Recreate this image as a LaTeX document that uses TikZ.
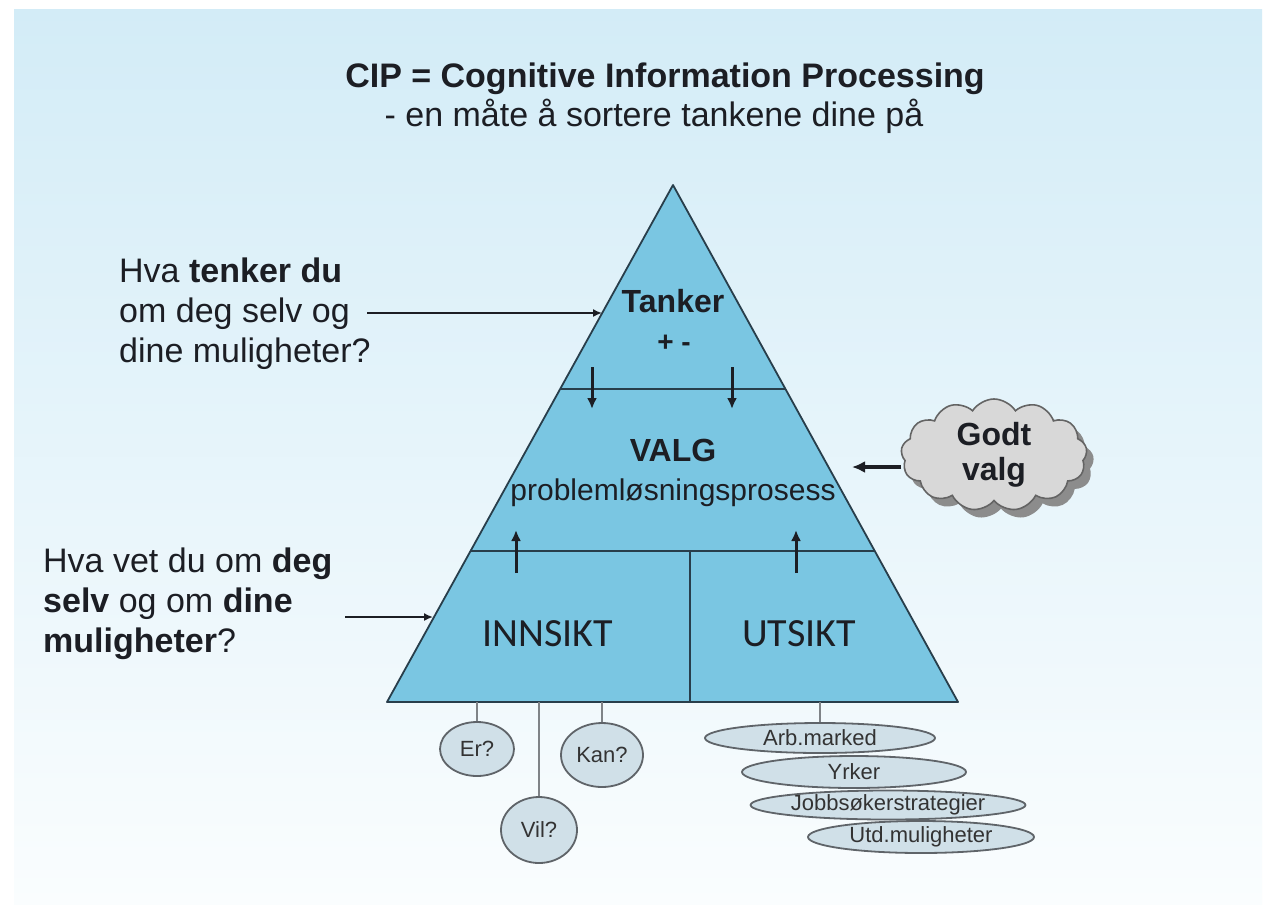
\documentclass[tikz,border=0pt]{standalone}
\usepackage{fontspec}
\setmainfont{Liberation Sans}
\newfontfamily\calib{Carlito}
\usetikzlibrary{shapes.symbols,shapes.geometric,arrows.meta,shadows,calc}
\definecolor{bgtop}{RGB}{211,236,247}
\definecolor{bgbot}{RGB}{250,253,254}
\definecolor{pyr}{RGB}{122,198,226}
\definecolor{pyrline}{RGB}{40,62,75}
\definecolor{txt}{RGB}{28,30,36}
\definecolor{bubble}{RGB}{208,224,232}
\definecolor{bubline}{RGB}{95,100,105}
\definecolor{cloudfill}{RGB}{216,216,216}
\definecolor{cloudline}{RGB}{100,100,100}
\begin{document}
\begin{tikzpicture}[x=1pt,y=-1pt,
  bigtext/.style={text=txt,inner sep=0pt,font=\fontsize{34}{40}\selectfont},
  pyrtext/.style={text=txt,inner sep=0pt},
  divline/.style={draw=pyrline,line width=1.8pt},
  pyrarrow/.style={draw=txt,line width=3pt,-{Latex[length=11pt,width=10pt]}},
  pointer/.style={draw=txt,line width=1.6pt,-{Latex[length=9pt,width=8pt]}},
  bubblenode/.style={ellipse,draw=bubline,line width=1.8pt,fill=bubble,inner sep=0pt,text=black!80,font=\fontsize{22}{24}\selectfont},
  stem/.style={draw=bubline!80,line width=1.6pt}]
\useasboundingbox (0,0) rectangle (1273,913);
\fill[white] (0,0) rectangle (1273,913);
\shade[top color=bgtop,bottom color=bgbot] (14,9) rectangle (1262,904);

% title
\node[bigtext,anchor=base,font=\fontsize{34}{40}\selectfont\bfseries] (title) at (665,87) {CIP = Cognitive Information Processing};
\node[bigtext,anchor=base] (subtitle) at (654,126) {- en måte å sortere tankene dine på};

% pyramid
\coordinate (apex) at (673,185);
\coordinate (bl) at (387,702);
\coordinate (br) at (958,702);
\filldraw[fill=pyr,draw=pyrline,line width=1.8pt,line join=round] (apex) -- (br) -- (bl) -- cycle;
\coordinate (d1l) at ($(apex)!0.3946!(bl)$);
\coordinate (d1r) at ($(apex)!0.3946!(br)$);
\coordinate (d2l) at ($(apex)!0.7079!(bl)$);
\coordinate (d2r) at ($(apex)!0.7079!(br)$);
\coordinate (vtop) at (690,551);
\coordinate (vbot) at (690,702);
\draw[divline] (d1l) -- (d1r);
\draw[divline] (d2l) -- (d2r);
\draw[divline] (vtop) -- (vbot);

\node[pyrtext,anchor=base,font=\fontsize{32}{36}\selectfont\bfseries] (tanker) at (673,312) {Tanker};
\node[pyrtext,anchor=base,font=\fontsize{28}{30}\selectfont\bfseries] (pm) at (674,351) {+ -};
\node[pyrtext,anchor=base,font=\fontsize{32}{36}\selectfont\bfseries] (valg) at (673,461) {VALG};
\node[pyrtext,anchor=base,font=\fontsize{30}{34}\selectfont] (prob) at (673,500) {problemløsningsprosess};
\node[pyrtext,anchor=base,font=\calib\fontsize{40}{44}\selectfont] (innsikt) at (548,646) {INNSIKT};
\node[pyrtext,anchor=base,font=\calib\fontsize{40}{44}\selectfont] (utsikt) at (799,646) {UTSIKT};

% arrows inside pyramid
\coordinate (a1s) at (592,367); \coordinate (a1e) at (592,409);
\coordinate (a2s) at (732,367); \coordinate (a2e) at (732,409);
\coordinate (a3s) at (516,573); \coordinate (a3e) at (516,530);
\coordinate (a4s) at (796,573); \coordinate (a4e) at (796,530);
\draw[pyrarrow] (a1s) -- (a1e);
\draw[pyrarrow] (a2s) -- (a2e);
\draw[pyrarrow] (a3s) -- (a3e);
\draw[pyrarrow] (a4s) -- (a4e);

% left questions
\node[bigtext,anchor=base west] (q1a) at (119,282) {Hva \textbf{tenker du}};
\node[bigtext,anchor=base west] (q1b) at (119,322) {om deg selv og};
\node[bigtext,anchor=base west] (q1c) at (119,362) {dine muligheter?};
\coordinate (p1s) at (367,313); \coordinate (p1e) at (602,313);
\draw[pointer] (p1s) -- (p1e);

\node[bigtext,anchor=base west] (q2a) at (43,572) {Hva vet du om \textbf{deg}};
\node[bigtext,anchor=base west] (q2b) at (43,612) {\textbf{selv} og om \textbf{dine}};
\node[bigtext,anchor=base west] (q2c) at (43,652) {\textbf{muligheter}?};
\coordinate (p2s) at (345,617); \coordinate (p2e) at (433,617);
\draw[pointer] (p2s) -- (p2e);

% cloud
\node[cloud,cloud puffs=13,cloud puff arc=115,aspect=1.75,draw=cloudline,line width=1.6pt,fill=cloudfill,
  minimum width=186pt,minimum height=112pt,inner sep=0pt,
  drop shadow={shadow xshift=7pt,shadow yshift=-8pt,fill=black!45,opacity=1},
  align=center,text=txt,font=\fontsize{32}{35}\selectfont\bfseries] (cloud) at (994,455) {Godt\\valg};
\coordinate (ctip) at (852,467);
\draw[draw=txt,line width=3.6pt,-{Latex[length=13pt,width=12pt]}] (cloud.west |- ctip) -- (ctip);

% innsikt bubbles
\node[bubblenode,minimum width=74pt,minimum height=54pt] (er) at (477,749) {Er?};
\node[bubblenode,minimum width=82pt,minimum height=64pt] (kan) at (602,755) {Kan?};
\node[bubblenode,minimum width=76pt,minimum height=66pt] (vil) at (539,830) {Vil?};
\draw[stem] (er.north) -- (er.north |- bl);
\draw[stem] (kan.north) -- (kan.north |- bl);
\draw[stem] (vil.north) -- (vil.north |- bl);

% utsikt ellipses
\node[bubblenode,minimum width=230pt,minimum height=30pt] (arb) at (820,738) {Arb.marked};
\node[bubblenode,minimum width=224pt,minimum height=32pt] (yrk) at (854,772) {Yrker};
\node[bubblenode,minimum width=228pt,minimum height=26pt] (jobb) at (888,805) {Jobbsøkerstrategier};
\node[bubblenode,minimum width=226pt,minimum height=32pt] (utd) at (921,837) {Utd.muligheter};
\draw[stem] (arb.north) -- (arb.north |- bl);
\end{tikzpicture}
\end{document}
